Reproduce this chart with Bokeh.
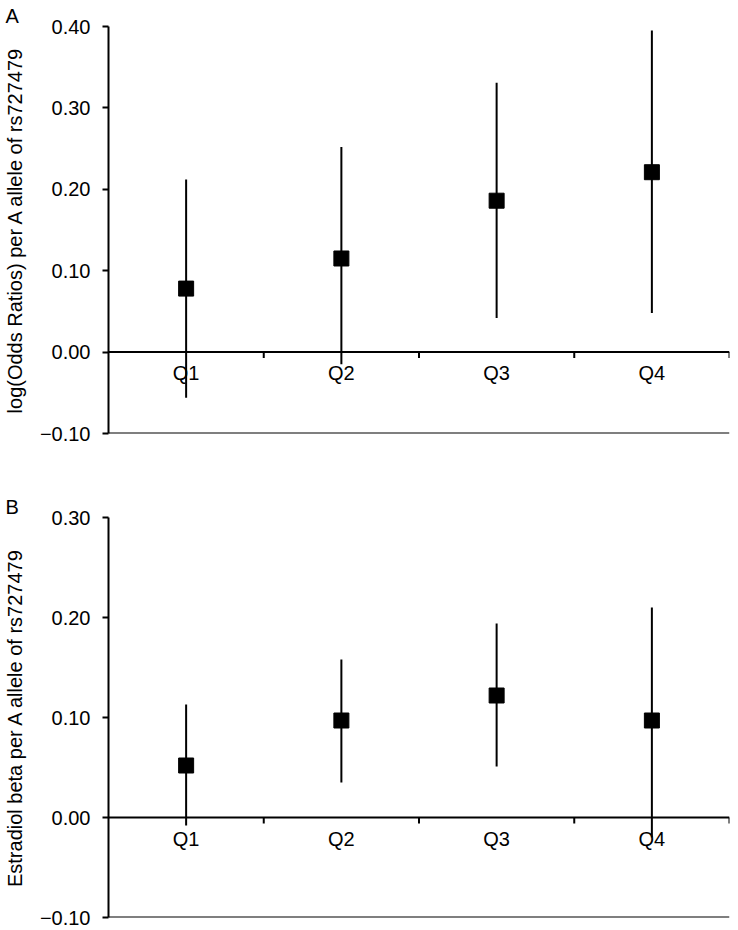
from bokeh.plotting import figure
from bokeh.layouts import column
from bokeh.models import ColumnDataSource, Span, FixedTicker, FactorRange, Range1d
from bokeh.transform import dodge
from bokeh.core.properties import value
from bokeh.embed import file_html
from bokeh.resources import INLINE

# ---------------- data ----------------
categories = ["Q1", "Q2", "Q3", "Q4"]

# Panel A: log(Odds Ratios)
a_est = [0.078, 0.115, 0.186, 0.221]
a_lo = [-0.056, -0.015, 0.042, 0.048]
a_hi = [0.212, 0.252, 0.331, 0.395]
a_ticks = [-0.10, 0.0, 0.10, 0.20, 0.30, 0.40]
a_tick_labels = ["\u22120.10", "0.00", "0.10", "0.20", "0.30", "0.40"]
a_ylabel = "log(Odds Ratios) per A allele of rs727479"

# Panel B: Estradiol beta
b_est = [0.052, 0.097, 0.122, 0.097]
b_lo = [-0.008, 0.035, 0.051, -0.020]
b_hi = [0.113, 0.158, 0.194, 0.210]
b_ticks = [-0.10, 0.0, 0.10, 0.20, 0.30]
b_tick_labels = ["\u22120.10", "0.00", "0.10", "0.20", "0.30"]
b_ylabel = "Estradiol beta per A allele of rs727479"

FONT = "Liberation Sans"
FS = "20px"
W = 730
LEFT = 103
RIGHT = 1
TICK_PX = 6


def make_panel(letter, est, lo, hi, ticks, tick_labels, ylabel,
               height, top, bottom):
    ymin, ymax = ticks[0], ticks[-1]
    p = figure(width=W, height=height, output_backend="svg",
               toolbar_location=None, x_axis_location=None,
               x_range=FactorRange(factors=categories, range_padding=0),
               y_range=Range1d(ymin, ymax),
               min_border_left=LEFT, min_border_right=RIGHT,
               min_border_top=top, min_border_bottom=bottom)
    p.grid.visible = False
    p.outline_line_color = None
    p.background_fill_color = "white"
    p.border_fill_color = "white"

    # panel letter
    p.title.text = letter
    p.title.align = "left"
    p.title.offset = -LEFT
    p.title.standoff = 0
    p.title.text_font = FONT
    p.title.text_font_size = FS
    p.title.text_font_style = "normal"
    p.title.text_color = "black"

    frame_h = height - top - bottom
    tick_len = TICK_PX * (ymax - ymin) / frame_h

    ax = p.yaxis[0]
    ax.ticker = FixedTicker(ticks=ticks)
    ax.major_label_overrides = dict(zip(ticks, tick_labels))
    ax.axis_line_width = 2
    ax.axis_line_color = "black"
    ax.major_tick_line_width = 2
    ax.major_tick_line_color = "black"
    ax.major_tick_in = 0
    ax.major_tick_out = TICK_PX
    ax.minor_tick_line_color = None
    ax.major_label_standoff = 12
    ax.major_label_text_font = FONT
    ax.major_label_text_font_size = FS
    ax.major_label_text_color = "black"
    ax.axis_label = ylabel
    ax.axis_label_text_font = FONT
    ax.axis_label_text_font_size = FS
    ax.axis_label_text_font_style = "normal"
    ax.axis_label_text_color = "black"
    ax.axis_label_standoff = 11

    # zero axis line and bottom line
    p.add_layout(Span(location=0, dimension="width", line_color="black", line_width=2))
    p.add_layout(Span(location=ymin, dimension="width", line_color="black", line_width=2))

    src = ColumnDataSource(dict(x=categories, est=est, lo=lo, hi=hi,
                                zero=[0.0] * len(categories),
                                tick_end=[-tick_len] * len(categories)))

    # category boundary ticks on the zero axis
    p.segment(x0=dodge("x", 0.5, range=p.x_range), y0="zero",
              x1=dodge("x", 0.5, range=p.x_range), y1="tick_end",
              source=src, line_color="black", line_width=2)

    # category labels under zero axis
    p.text(x="x", y="zero", text="x", source=src, text_align="center",
           text_baseline="top", y_offset=10, text_font=value(FONT),
           text_font_size=FS, text_color="black")

    # error bars and points
    p.segment(x0="x", y0="lo", x1="x", y1="hi", source=src,
              line_color="black", line_width=2)
    p.scatter(x="x", y="est", source=src, marker="square", size=15,
              fill_color="black", line_color="black")
    return p


pA = make_panel("A", a_est, a_lo, a_hi, a_ticks, a_tick_labels, a_ylabel,
                height=445, top=26, bottom=12)
pB = make_panel("B", b_est, b_lo, b_hi, b_ticks, b_tick_labels, b_ylabel,
                height=484, top=72, bottom=12)

layout = column(pA, pB, spacing=0)
open("out.html", "w").write(file_html(layout, INLINE))
